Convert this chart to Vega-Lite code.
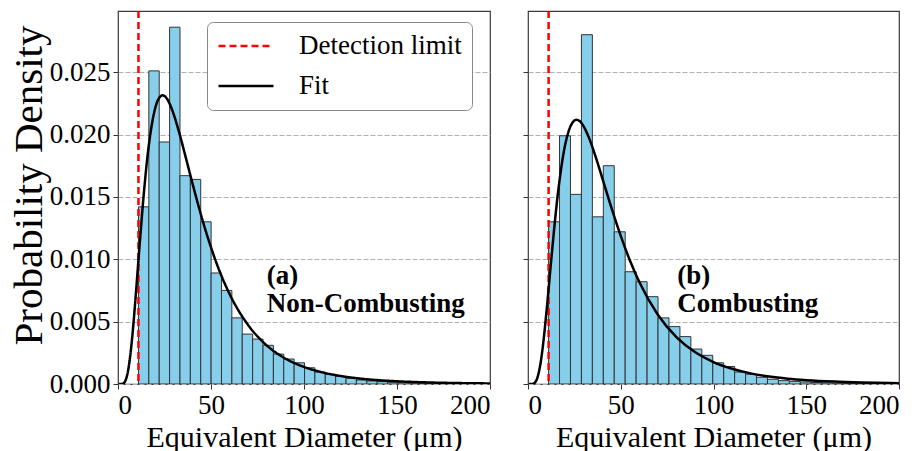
{
  "$schema": "https://vega.github.io/schema/vega-lite/v6.json",
  "padding": {"left": 7, "top": 9, "right": 5, "bottom": 5},
  "background": "white",
  "config": {
    "font": "Liberation Serif",
    "view": {"stroke": "#3a3a3a", "strokeWidth": 1.2},
    "axis": {
      "labelFont": "Liberation Serif",
      "titleFont": "Liberation Serif",
      "labelColor": "black",
      "titleColor": "black",
      "tickColor": "#333",
      "domain": false,
      "labelFontSize": 27,
      "titleFontSize": 30,
      "titleFontWeight": "normal",
      "tickSize": 5,
      "tickWidth": 1
    },
    "legend": {"labelFont": "Liberation Serif"}
  },
  "datasets": {
    "histA": [
      {"lo": 11.0, "hi": 16.58, "density": 0.0142},
      {"lo": 16.58, "hi": 22.16, "density": 0.0251},
      {"lo": 22.16, "hi": 27.74, "density": 0.0194},
      {"lo": 27.74, "hi": 33.32, "density": 0.0286},
      {"lo": 33.32, "hi": 38.9, "density": 0.0167},
      {"lo": 38.9, "hi": 44.48, "density": 0.0164},
      {"lo": 44.48, "hi": 50.06, "density": 0.0130},
      {"lo": 50.06, "hi": 55.64, "density": 0.0089},
      {"lo": 55.64, "hi": 61.22, "density": 0.0075},
      {"lo": 61.22, "hi": 66.8, "density": 0.0053},
      {"lo": 66.8, "hi": 72.38, "density": 0.0040},
      {"lo": 72.38, "hi": 77.96, "density": 0.0036},
      {"lo": 77.96, "hi": 83.54, "density": 0.0031},
      {"lo": 83.54, "hi": 89.12, "density": 0.0024},
      {"lo": 89.12, "hi": 94.7, "density": 0.0020},
      {"lo": 94.7, "hi": 100.28, "density": 0.0017},
      {"lo": 100.28, "hi": 105.86, "density": 0.0013},
      {"lo": 105.86, "hi": 111.44, "density": 0.00096},
      {"lo": 111.44, "hi": 117.02, "density": 0.00078},
      {"lo": 117.02, "hi": 122.6, "density": 0.00062},
      {"lo": 122.6, "hi": 128.18, "density": 0.00046},
      {"lo": 128.18, "hi": 133.76, "density": 0.00032},
      {"lo": 133.76, "hi": 139.34, "density": 0.00024},
      {"lo": 139.34, "hi": 144.92, "density": 0.00019},
      {"lo": 144.92, "hi": 150.5, "density": 0.00014},
      {"lo": 150.5, "hi": 156.08, "density": 0.0001},
      {"lo": 156.08, "hi": 161.66, "density": 0.00007},
      {"lo": 161.66, "hi": 167.24, "density": 0.00005},
      {"lo": 167.24, "hi": 172.82, "density": 0.00003},
      {"lo": 172.82, "hi": 178.4, "density": 0.00002},
      {"lo": 178.4, "hi": 183.98, "density": 0.00001}
    ],
    "histB": [
      {"lo": 11.1, "hi": 17.0, "density": 0.0130},
      {"lo": 17.0, "hi": 22.9, "density": 0.0199},
      {"lo": 22.9, "hi": 28.8, "density": 0.0152},
      {"lo": 28.8, "hi": 34.7, "density": 0.0280},
      {"lo": 34.7, "hi": 40.6, "density": 0.0134},
      {"lo": 40.6, "hi": 46.5, "density": 0.0175},
      {"lo": 46.5, "hi": 52.4, "density": 0.0122},
      {"lo": 52.4, "hi": 58.3, "density": 0.0090},
      {"lo": 58.3, "hi": 64.2, "density": 0.0082},
      {"lo": 64.2, "hi": 70.1, "density": 0.0070},
      {"lo": 70.1, "hi": 76.0, "density": 0.0053},
      {"lo": 76.0, "hi": 81.9, "density": 0.0046},
      {"lo": 81.9, "hi": 87.8, "density": 0.0038},
      {"lo": 87.8, "hi": 93.7, "density": 0.0028},
      {"lo": 93.7, "hi": 99.6, "density": 0.0023},
      {"lo": 99.6, "hi": 105.5, "density": 0.0017},
      {"lo": 105.5, "hi": 111.4, "density": 0.0014},
      {"lo": 111.4, "hi": 117.3, "density": 0.00096},
      {"lo": 117.3, "hi": 123.2, "density": 0.00078},
      {"lo": 123.2, "hi": 129.1, "density": 0.00054},
      {"lo": 129.1, "hi": 135.0, "density": 0.00038},
      {"lo": 135.0, "hi": 140.9, "density": 0.00027},
      {"lo": 140.9, "hi": 146.8, "density": 0.00021},
      {"lo": 146.8, "hi": 152.7, "density": 0.00016},
      {"lo": 152.7, "hi": 158.6, "density": 0.00012},
      {"lo": 158.6, "hi": 164.5, "density": 0.0001},
      {"lo": 164.5, "hi": 170.4, "density": 0.00006},
      {"lo": 170.4, "hi": 176.3, "density": 0.00004},
      {"lo": 176.3, "hi": 182.2, "density": 0.00003},
      {"lo": 182.2, "hi": 188.1, "density": 0.00002},
      {"lo": 188.1, "hi": 194.0, "density": 0.00001}
    ],
    "fitA": [
      {"d": 0.5, "p": 0, "series": "Fit"},
      {"d": 2, "p": 0.000004, "series": "Fit"},
      {"d": 3, "p": 0.000057, "series": "Fit"},
      {"d": 4, "p": 0.00027, "series": "Fit"},
      {"d": 5, "p": 0.00076, "series": "Fit"},
      {"d": 6, "p": 0.00161, "series": "Fit"},
      {"d": 7, "p": 0.00281, "series": "Fit"},
      {"d": 8, "p": 0.00432, "series": "Fit"},
      {"d": 9, "p": 0.00608, "series": "Fit"},
      {"d": 10, "p": 0.0080, "series": "Fit"},
      {"d": 12, "p": 0.01187, "series": "Fit"},
      {"d": 14, "p": 0.01546, "series": "Fit"},
      {"d": 16, "p": 0.01844, "series": "Fit"},
      {"d": 18, "p": 0.02062, "series": "Fit"},
      {"d": 20, "p": 0.02211, "series": "Fit"},
      {"d": 22, "p": 0.0229, "series": "Fit"},
      {"d": 24, "p": 0.02314, "series": "Fit"},
      {"d": 26, "p": 0.02293, "series": "Fit"},
      {"d": 28, "p": 0.02239, "series": "Fit"},
      {"d": 30, "p": 0.02159, "series": "Fit"},
      {"d": 33, "p": 0.0201, "series": "Fit"},
      {"d": 36, "p": 0.01841, "series": "Fit"},
      {"d": 40, "p": 0.0161, "series": "Fit"},
      {"d": 45, "p": 0.01336, "series": "Fit"},
      {"d": 50, "p": 0.01095, "series": "Fit"},
      {"d": 55, "p": 0.0089, "series": "Fit"},
      {"d": 60, "p": 0.00721, "series": "Fit"},
      {"d": 70, "p": 0.00472, "series": "Fit"},
      {"d": 80, "p": 0.00309, "series": "Fit"},
      {"d": 90, "p": 0.00204, "series": "Fit"},
      {"d": 100, "p": 0.00137, "series": "Fit"},
      {"d": 110, "p": 0.00093, "series": "Fit"},
      {"d": 120, "p": 0.000634, "series": "Fit"},
      {"d": 130, "p": 0.000438, "series": "Fit"},
      {"d": 140, "p": 0.000307, "series": "Fit"},
      {"d": 150, "p": 0.000218, "series": "Fit"},
      {"d": 165, "p": 0.000132, "series": "Fit"},
      {"d": 180, "p": 0.0000823, "series": "Fit"},
      {"d": 200, "p": 0.000045, "series": "Fit"}
    ],
    "fitB": [
      {"d": 0.5, "p": 0},
      {"d": 2, "p": 0.000002},
      {"d": 3, "p": 0.000031},
      {"d": 4, "p": 0.000156},
      {"d": 5, "p": 0.00047},
      {"d": 6, "p": 0.00104},
      {"d": 7, "p": 0.00188},
      {"d": 8, "p": 0.00299},
      {"d": 9, "p": 0.00433},
      {"d": 10, "p": 0.00585},
      {"d": 12, "p": 0.00909},
      {"d": 14, "p": 0.01228},
      {"d": 16, "p": 0.01513},
      {"d": 18, "p": 0.01741},
      {"d": 20, "p": 0.01916},
      {"d": 22, "p": 0.02031},
      {"d": 24, "p": 0.02096},
      {"d": 26, "p": 0.02119},
      {"d": 28, "p": 0.02106},
      {"d": 30, "p": 0.02066},
      {"d": 33, "p": 0.01969},
      {"d": 36, "p": 0.01843},
      {"d": 40, "p": 0.01653},
      {"d": 45, "p": 0.01412},
      {"d": 50, "p": 0.01187},
      {"d": 55, "p": 0.00988},
      {"d": 60, "p": 0.00817},
      {"d": 70, "p": 0.00555},
      {"d": 80, "p": 0.00376},
      {"d": 90, "p": 0.00256},
      {"d": 100, "p": 0.00176},
      {"d": 110, "p": 0.00122},
      {"d": 120, "p": 0.000852},
      {"d": 130, "p": 0.0006},
      {"d": 140, "p": 0.000428},
      {"d": 150, "p": 0.000309},
      {"d": 165, "p": 0.000192},
      {"d": 180, "p": 0.000122},
      {"d": 200, "p": 0.0000685}
    ],
    "limit": [{"d": 11, "series": "Detection limit"}]
  },
  "spacing": 29,
  "hconcat": [
    {
      "width": 372,
      "height": 373,
      "layer": [
        {
          "data": {"name": "histA"},
          "mark": {"type": "bar", "fill": "#87CEEB", "stroke": "#333333", "strokeWidth": 1, "clip": true},
          "encoding": {
            "x": {"field": "lo", "type": "quantitative", "scale": {"domain": [0, 200], "nice": false},
              "axis": {"values": [0, 50, 100, 150, 200], "title": "Equivalent Diameter (μm)", "grid": false, "labelPadding": 3, "titlePadding": 4}},
            "x2": {"field": "hi"},
            "y": {"field": "density", "type": "quantitative", "scale": {"domain": [0, 0.0299], "nice": false},
              "axis": {"values": [0, 0.005, 0.01, 0.015, 0.02, 0.025], "format": ".3f", "title": "Probability Density", "titleFontSize": 41, "titleY": 174,
                "grid": true, "gridDash": [5, 2], "gridColor": "#b0b0b0", "gridWidth": 1, "labelPadding": 3, "titlePadding": -1}},
            "y2": {"datum": 0}
          }
        },
        {
          "data": {"name": "limit"},
          "mark": {"type": "rule", "strokeWidth": 2.5},
          "encoding": {
            "x": {"field": "d", "type": "quantitative"},
            "color": {"field": "series", "type": "nominal",
              "scale": {"domain": ["Detection limit", "Fit"], "range": ["#ff0000", "#000000"]},
              "legend": {"orient": "none", "legendX": 89, "legendY": 11, "title": null, "fillColor": "white", "strokeColor": "#888888", "cornerRadius": 6, "padding": 10, "labelFontSize": 27, "labelLimit": 400, "labelColor": "black", "symbolType": "stroke", "symbolSize": 3025, "symbolStrokeWidth": 2.5, "labelOffset": 24, "rowPadding": 12, "clipHeight": 28}},
            "strokeDash": {"field": "series", "type": "nominal",
              "scale": {"domain": ["Detection limit", "Fit"], "range": [[7, 4], [1, 0]]},
              "legend": {"orient": "none", "legendX": 89, "legendY": 11, "title": null, "fillColor": "white", "strokeColor": "#888888", "cornerRadius": 6, "padding": 10, "labelFontSize": 27, "labelLimit": 400, "labelColor": "black", "symbolType": "stroke", "symbolSize": 3025, "symbolStrokeWidth": 2.5, "labelOffset": 24, "rowPadding": 12, "clipHeight": 28}}
          }
        },
        {
          "data": {"name": "fitA"},
          "mark": {"type": "line", "strokeWidth": 2.5, "interpolate": "monotone", "clip": true},
          "encoding": {
            "x": {"field": "d", "type": "quantitative"},
            "y": {"field": "p", "type": "quantitative"},
            "color": {"field": "series", "type": "nominal"},
            "strokeDash": {"field": "series", "type": "nominal"}
          }
        },
        {
          "data": {"values": [{}]},
          "mark": {"type": "text", "text": ["(a)", "Non-Combusting"], "align": "left", "baseline": "alphabetic", "fontSize": 27, "fontWeight": "bold", "lineHeight": 28, "font": "Liberation Serif", "color": "black"},
          "encoding": {
            "x": {"datum": 80},
            "y": {"datum": 0.00803}
          }
        }
      ]
    },
    {
      "width": 371,
      "height": 373,
      "layer": [
        {
          "data": {"name": "histB"},
          "mark": {"type": "bar", "fill": "#87CEEB", "stroke": "#333333", "strokeWidth": 1, "clip": true},
          "encoding": {
            "x": {"field": "lo", "type": "quantitative", "scale": {"domain": [0, 200], "nice": false},
              "axis": {"values": [0, 50, 100, 150, 200], "title": "Equivalent Diameter (μm)", "grid": false, "labelPadding": 3, "titlePadding": 4}},
            "x2": {"field": "hi"},
            "y": {"field": "density", "type": "quantitative", "scale": {"domain": [0, 0.0299], "nice": false},
              "axis": {"values": [0, 0.005, 0.01, 0.015, 0.02, 0.025], "labels": false, "title": null,
                "grid": true, "gridDash": [5, 2], "gridColor": "#b0b0b0", "gridWidth": 1}},
            "y2": {"datum": 0}
          }
        },
        {
          "data": {"values": [{"d": 11.1}]},
          "mark": {"type": "rule", "strokeWidth": 2.5, "color": "#ff0000", "strokeDash": [7, 4]},
          "encoding": {
            "x": {"field": "d", "type": "quantitative"}
          }
        },
        {
          "data": {"name": "fitB"},
          "mark": {"type": "line", "strokeWidth": 2.5, "color": "black", "interpolate": "monotone", "clip": true},
          "encoding": {
            "x": {"field": "d", "type": "quantitative"},
            "y": {"field": "p", "type": "quantitative"}
          }
        },
        {
          "data": {"values": [{}]},
          "mark": {"type": "text", "text": ["(b)", "Combusting"], "align": "left", "baseline": "alphabetic", "fontSize": 27, "fontWeight": "bold", "lineHeight": 28, "font": "Liberation Serif", "color": "black"},
          "encoding": {
            "x": {"datum": 80.5},
            "y": {"datum": 0.00803}
          }
        }
      ]
    }
  ]
}
